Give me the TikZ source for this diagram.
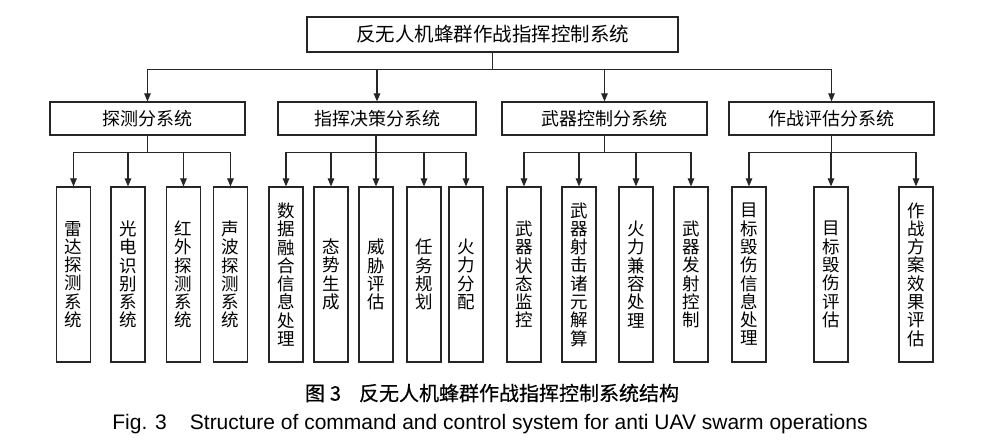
\documentclass[tikz,border=0pt]{standalone}
\usepackage{fontspec}
\setmainfont{Liberation Sans}
\newfontfamily\cjk{Noto Sans CJK SC}
\newfontfamily\cjkmed{Noto Sans CJK SC}[FakeBold=0.5]
\usetikzlibrary{arrows.meta}
\begin{document}
\begin{tikzpicture}[x=1pt,y=-1pt,
  box/.style={draw=black!85, line width=1.2pt, inner sep=0pt, fill=white},
  topbox/.style={box, minimum width=371pt, minimum height=35pt, font=\cjk\fontsize{19.5}{20}\selectfont},
  midbox/.style={box, minimum height=33pt, font=\cjk\fontsize{18}{20}\selectfont},
  leaf/.style={box, minimum width=34pt, minimum height=175pt, align=center, font=\cjk\fontsize{17.5}{18.3}\selectfont},
  arr/.style={draw=black!85, line width=1.1pt, -{Triangle[length=8pt,width=6.5pt]}},
  ln/.style={draw=black!85, line width=1.1pt}]
\useasboundingbox (0,0) rectangle (1007,440);
\fill[white] (0,0) rectangle (1007,440);

% top
\node[topbox] (top) at (492.5,34.5) {反无人机蜂群作战指挥控制系统};

% level 2
\node[midbox, minimum width=195pt] (s1) at (147.5,118.5) {探测分系统};
\node[midbox, minimum width=198pt] (s2) at (377,118.5) {指挥决策分系统};
\node[midbox, minimum width=205pt] (s3) at (604.5,118.5) {武器控制分系统};
\node[midbox, minimum width=205pt] (s4) at (831.5,118.5) {作战评估分系统};

% leaves
\node[leaf] (l1) at (73.5,274.5) {雷\\达\\探\\测\\系\\统};
\node[leaf] (l2) at (128,274.5) {光\\电\\识\\别\\系\\统};
\node[leaf] (l3) at (183.5,274.5) {红\\外\\探\\测\\系\\统};
\node[leaf] (l4) at (230.5,274.5) {声\\波\\探\\测\\系\\统};
\node[leaf] (l5) at (286,274.5) {数\\据\\融\\合\\信\\息\\处\\理};
\node[leaf] (l6) at (331,274.5) {态\\势\\生\\成};
\node[leaf] (l7) at (376,274.5) {威\\胁\\评\\估};
\node[leaf] (l8) at (424,274.5) {任\\务\\规\\划};
\node[leaf] (l9) at (466,274.5) {火\\力\\分\\配};
\node[leaf] (l10) at (524,274.5) {武\\器\\状\\态\\监\\控};
\node[leaf] (l11) at (579,274.5) {武\\器\\射\\击\\诸\\元\\解\\算};
\node[leaf] (l12) at (636,274.5) {火\\力\\兼\\容\\处\\理};
\node[leaf] (l13) at (691,274.5) {武\\器\\发\\射\\控\\制};
\node[leaf] (l14) at (749,274.5) {目\\标\\毁\\伤\\信\\息\\处\\理};
\node[leaf] (l15) at (831,274.5) {目\\标\\毁\\伤\\评\\估};
\node[leaf] (l16) at (916,274.5) {作\\战\\方\\案\\效\\果\\评\\估};

% connectors top -> level 2
\foreach \s in {s1,s2,s3,s4}
  \draw[arr] (top.south) -- ++(0,17) -| (\s.north);

% level 2 -> leaves
\foreach \l in {l1,l2,l3,l4}
  \draw[arr] (s1.south) -- ++(0,17) -| (\l.north);
\foreach \l in {l5,l6,l7,l8,l9}
  \draw[arr] ([xshift=-1pt]s2.south) -- ++(0,17) -| (\l.north);
\foreach \l in {l10,l11,l12,l13}
  \draw[arr] (s3.south) -- ++(0,17) -| (\l.north);
\foreach \l in {l14,l15,l16}
  \draw[arr] (s4.south) -- ++(0,17) -| (\l.north);

% caption
\node[font=\cjkmed\fontsize{20}{22}\selectfont] (cap1) at (492,393) {图\hspace{0.25em}3\hspace{0.9em}反无人机蜂群作战指挥控制系统结构};
\node[font=\fontsize{21}{24}\selectfont] (cap2) at (490,424) {Fig. 3\hspace{1.1em}Structure of command and control system for anti UAV swarm operations};
\end{tikzpicture}
\end{document}
